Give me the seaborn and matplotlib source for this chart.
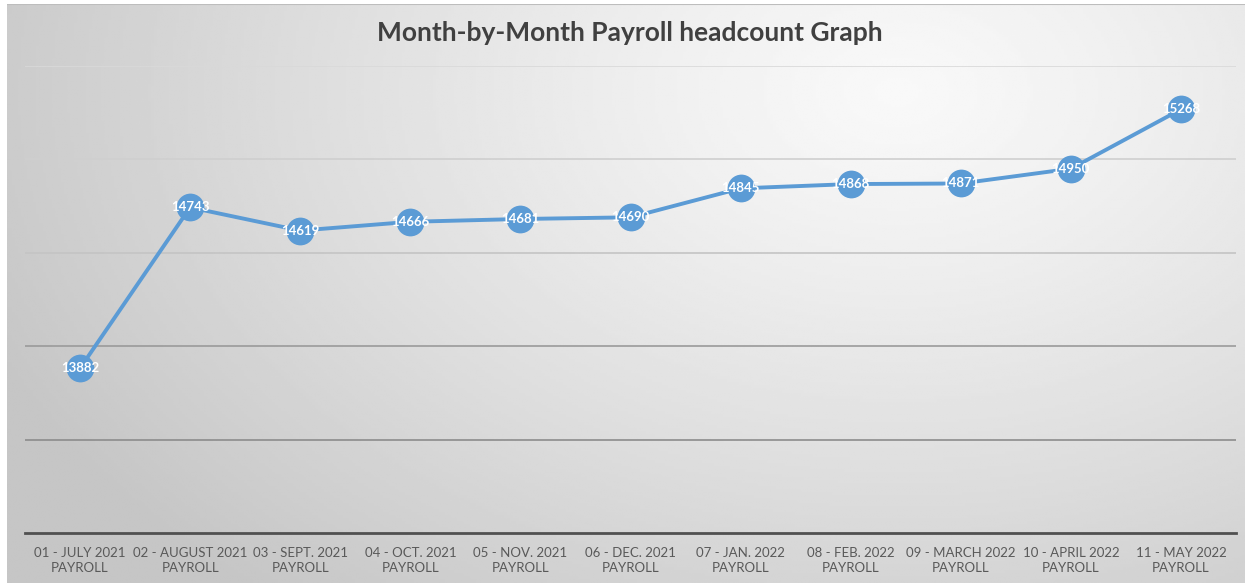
import matplotlib
matplotlib.use('Agg')
import matplotlib.pyplot as plt
import numpy as np
import pandas as pd
import seaborn as sns

# chart data
months = ["01 - JULY 2021\nPAYROLL", "02 - AUGUST 2021\nPAYROLL", "03 - SEPT. 2021\nPAYROLL",
          "04 - OCT. 2021\nPAYROLL", "05 - NOV. 2021\nPAYROLL", "06 - DEC. 2021\nPAYROLL",
          "07 - JAN. 2022\nPAYROLL", "08 - FEB. 2022\nPAYROLL", "09 - MARCH 2022\nPAYROLL",
          "10 - APRIL 2022\nPAYROLL", "11 - MAY 2022\nPAYROLL"]
headcount = [13882, 14743, 14619, 14666, 14681, 14690, 14845, 14868, 14871, 14950, 15268]
y_ticks = [13000, 13500, 14000, 14500, 15000, 15500]

df = pd.DataFrame({"month": months, "headcount": headcount})

sns.set_style("white")
plt.rcParams['font.family'] = ['Lato', 'DejaVu Sans']

fig = plt.figure(figsize=(12.5, 5.83), dpi=100)
fig.patch.set_facecolor('white')

# gradient background panel
bg = fig.add_axes([7 / 1250, 0, 1238 / 1250, 579 / 583], zorder=0)
gx, gy = np.meshgrid(np.linspace(0, 1, 400), np.linspace(0, 1, 200))
dist = np.sqrt(((gx - 0.72) * 1.0) ** 2 + ((gy - 0.15) * 0.7) ** 2)
shade = 0.975 - 0.20 * np.clip(dist / 0.8, 0, 1) ** 1.2
bg.imshow(shade, cmap='gray', vmin=0, vmax=1, aspect='auto', extent=[0, 1, 1, 0])
bg.set_axis_off()
bg.axhline(0.0, color='#bdbdbd', lw=1.5)

ax = fig.add_axes([25 / 1250, 50 / 583, 1211 / 1250, 467 / 583], zorder=1)
ax.patch.set_alpha(0)

sns.lineplot(data=df, x="month", y="headcount", ax=ax, sort=False, color='#5B9BD5',
             lw=2.8, marker='o', markersize=20, markeredgewidth=0, zorder=3)

for i, v in enumerate(headcount):
    ax.text(i, v, str(v), ha='center', va='center', color='white', fontsize=9.5,
            fontweight='bold', zorder=4)

ax.set_ylim(y_ticks[0], y_ticks[-1])
ax.set_xlim(-0.5, len(months) - 0.5)
ax.set_yticks(y_ticks)
ax.set_yticklabels([])
ax.tick_params(axis='y', length=0)
ax.tick_params(axis='x', length=0, pad=10, labelsize=9.5, labelcolor='#595959')
for lbl in ax.get_xticklabels():
    lbl.set_linespacing(1.3)

grid_colors = ['#8c8c8c', '#9a9a9a', '#c4c4c4', '#cfcfcf', '#d9d9d9']
for yv, c in zip(y_ticks[1:], grid_colors):
    ax.axhline(yv, color=c, lw=1.2, zorder=1)

for s in ['top', 'right', 'left']:
    ax.spines[s].set_visible(False)
ax.spines['bottom'].set_color('#505050')
ax.spines['bottom'].set_linewidth(2)

ax.set_xlabel('')
ax.set_ylabel('')

fig.text(0.504, 0.943, "Month-by-Month Payroll headcount Graph", ha='center', va='center',
         fontsize=19, fontweight='bold', color='#404040')

fig.savefig('out.png', dpi=100)
plt.close()
